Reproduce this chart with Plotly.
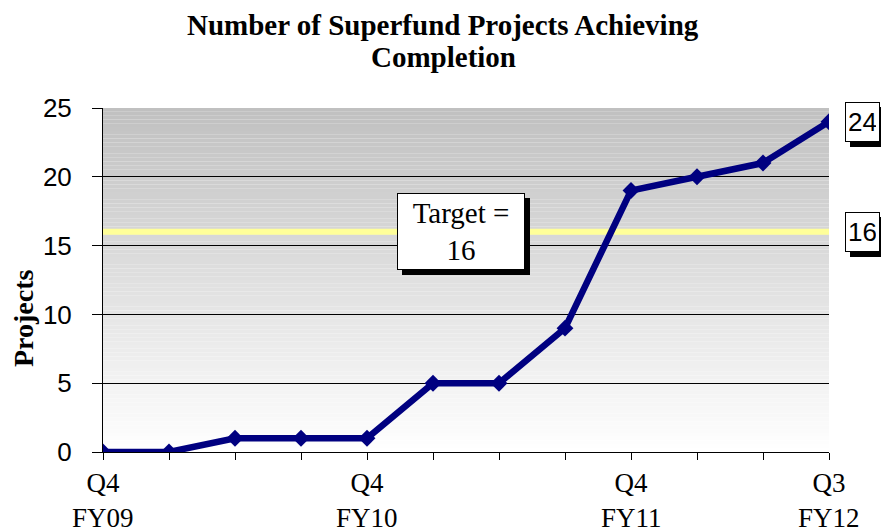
import plotly.graph_objects as go

quarters = ["Q4 FY09", "Q1 FY10", "Q2 FY10", "Q3 FY10", "Q4 FY10", "Q1 FY11",
            "Q2 FY11", "Q3 FY11", "Q4 FY11", "Q1 FY12", "Q2 FY12", "Q3 FY12"]
projects = [0, 0, 1, 1, 1, 5, 5, 9, 19, 20, 21, 24]
tick_quarter = ["Q4", "", "", "", "Q4", "", "", "", "Q4", "", "", "Q3"]
tick_year = ["FY09", "", "", "", "FY10", "", "", "", "FY11", "", "", "FY12"]
target = 16
y_ticks = [0, 5, 10, 15, 20, 25]
title_lines = ["Number of Superfund Projects Achieving", "Completion"]

xs = list(range(len(quarters)))

fig = go.Figure()

# target line
fig.add_trace(go.Scatter(x=[xs[0], xs[-1]], y=[target, target], mode="lines",
                         line=dict(color="#ffff99", width=6), hoverinfo="skip",
                         showlegend=False))
fig.add_trace(go.Scatter(x=xs, y=projects, mode="lines+markers",
                         line=dict(color="#000080", width=6.5),
                         marker=dict(symbol="diamond", size=13, color="#000080"),
                         showlegend=False, text=quarters))

# gradient background
shapes = []
N = 90
for i in range(N):
    t = (i + 0.5) / N  # 0 bottom, 1 top
    c = int(round(255 - (255 - 192) * t))
    shapes.append(dict(type="rect", xref="paper", yref="paper",
                       x0=0, x1=1, y0=i / N, y1=(i + 1) / N,
                       fillcolor=f"rgb({c},{c},{c})", line=dict(width=0),
                       layer="below"))

serif = "Liberation Serif, Times New Roman, serif"
sans = "Liberation Sans, Arial, sans-serif"

PLOT_W = 726.0
PLOT_H = 344.0

annotations = []

def boxed(text, x, y, xref, yref, font, w, h, pad=3):
    # shadow
    annotations.append(dict(text=text, x=x, y=y, xref=xref, yref=yref, showarrow=False,
                            font=dict(family=font["family"], size=font["size"], color="black"),
                            bgcolor="black", bordercolor="black", borderwidth=1, borderpad=pad,
                            width=w, height=h, xanchor="center", yanchor="middle",
                            xshift=5, yshift=-5))
    annotations.append(dict(text=text, x=x, y=y, xref=xref, yref=yref, showarrow=False,
                            font=font, bgcolor="white", bordercolor="black", borderwidth=1,
                            borderpad=pad, width=w, height=h,
                            xanchor="center", yanchor="middle"))

boxed("Target =<br>16", 5.42, target, "x", "y",
      dict(family=serif, size=29, color="black"), 120, 69)
boxed(str(projects[-1]), (862.5 - 103) / PLOT_W, projects[-1], "paper", "y",
      dict(family=sans, size=26, color="black"), 27, 32)
boxed(str(target), (862.5 - 103) / PLOT_W, target, "paper", "y",
      dict(family=sans, size=26, color="black"), 27, 32)

# y axis title
annotations.append(dict(text="<b>Projects</b>", x=(23 - 103) / PLOT_W, y=(452 - 318) / PLOT_H,
                        xref="paper", yref="paper", xanchor="center", yanchor="middle",
                        showarrow=False, textangle=-90,
                        font=dict(family=serif, size=28, color="black")))

# second row of x labels
for x, yr in zip(xs, tick_year):
    if yr:
        annotations.append(dict(text=yr, x=x, y=-(518 - 452) / PLOT_H, xref="x", yref="paper",
                                showarrow=False, xanchor="center", yanchor="middle",
                                font=dict(family=serif, size=27, color="black")))

# title (two lines, centred at y = 25 and 57 px)
for line, cy in zip(title_lines, [25, 57]):
    annotations.append(dict(text=f"<b>{line}</b>",
                            x=(443 - 103) / PLOT_W, y=(452 - cy) / PLOT_H,
                            xref="paper", yref="paper",
                            xanchor="center", yanchor="middle", showarrow=False,
                            font=dict(family=serif, size=29, color="black")))

# the page body has an 8px margin, so the figure is offset by 8px
fig.update_layout(
    width=881, height=523,
    margin=dict(l=95, r=60, t=100, b=79, autoexpand=False),
    paper_bgcolor="white", plot_bgcolor="rgba(0,0,0,0)",
    shapes=shapes,
    annotations=annotations,
    xaxis=dict(range=[xs[0], xs[-1]], tickvals=xs, ticktext=tick_quarter,
               showgrid=False, zeroline=False, showline=True, linecolor="black",
               linewidth=1, ticks="outside", ticklen=7, tickcolor="black",
               automargin=False,
               tickfont=dict(family=serif, size=27, color="black")),
    yaxis=dict(range=[0, 25], tickvals=y_ticks, showgrid=True, gridcolor="black",
               gridwidth=1, zeroline=False, showline=True, linecolor="black",
               linewidth=1, ticks="outside", ticklen=10, tickcolor="black",
               ticklabelstandoff=15, automargin=False,
               tickfont=dict(family=sans, size=26, color="black")),
)

fig.write_html("out.html")
